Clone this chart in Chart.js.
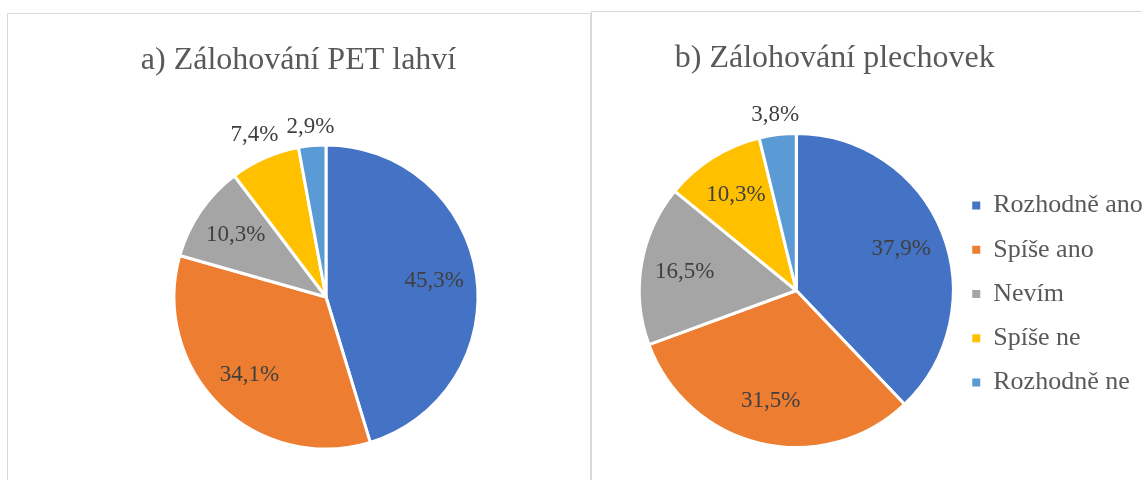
<!DOCTYPE html>
<html>
<head>
<meta charset="utf-8">
<script src="https://cdn.jsdelivr.net/npm/chart.js@4.4.1/dist/chart.umd.min.js"></script>
<style>
  html, body { margin: 0; padding: 0; background: #fff; overflow: hidden; width: 1142px; height: 480px; }
  .panel { position: absolute; border: 1px solid #d9d9d9; background: #fff; }
  #panelA { left: 7px; top: 13px; width: 582px; height: 510px; }
  #panelB { left: 591px; top: 11px; width: 600px; height: 500px; }
  canvas { display: block; }
</style>
</head>
<body>
<div class="panel" id="panelA"><canvas id="petChart" width="582" height="510"></canvas></div>
<div class="panel" id="panelB"><canvas id="canChart" width="600" height="500"></canvas></div>
<script>
// Two Excel-style pies: deposit-return opinions for PET bottles and cans.

const CATEGORIES = ['Rozhodně ano', 'Spíše ano', 'Nevím', 'Spíše ne', 'Rozhodně ne'];
const PET_VALUES = [45.3, 34.1, 10.3, 7.4, 2.9];
const CAN_VALUES = [37.9, 31.5, 16.5, 10.3, 3.8];
const PET_TITLE = 'a) Zálohování PET lahví';
const CAN_TITLE = 'b) Zálohování plechovek';

const COLORS = ['#4472C4', '#ED7D31', '#A5A5A5', '#FFC000', '#5B9BD5'];
const SERIF = "'Liberation Serif', 'Times New Roman', Times, 'DejaVu Serif', serif";

Chart.defaults.font.family = SERIF;
Chart.defaults.color = '#595959';

// percentage labels: big slices inside, small ones just outside the rim
const pieLabels = {
  id: 'pieLabels',
  afterDatasetsDraw(chart) {
    const ctx = chart.ctx;
    const meta = chart.getDatasetMeta(0);
    const values = chart.data.datasets[0].data;
    const size = 23;
    ctx.save();
    ctx.font = size + 'px ' + SERIF;
    ctx.fillStyle = '#404040';
    ctx.textAlign = 'center';
    ctx.textBaseline = 'middle';
    meta.data.forEach((arc, i) => {
      const p = arc.getProps(['x', 'y', 'startAngle', 'endAngle', 'outerRadius'], true);
      const mid = (p.startAngle + p.endAngle) / 2;
      const cx = Math.cos(mid), sy = Math.sin(mid);
      const text = values[i].toFixed(1).replace('.', ',') + '%';
      let dist;
      if (values[i] >= 8) {
        dist = p.outerRadius * 0.72;
      } else {
        const w = ctx.measureText(text).width;
        const h = size * 0.85;
        dist = p.outerRadius + 7 + Math.abs(cx) * w / 2 + Math.abs(sy) * h / 2;
      }
      ctx.fillText(text, p.x + cx * dist, p.y + sy * dist);
    });
    ctx.restore();
  }
};

// chart title, placed like the Excel title (not tied to the plot area centre)
const panelTitle = {
  id: 'panelTitle',
  afterDraw(chart, args, opts) {
    const ctx = chart.ctx;
    ctx.save();
    ctx.font = '32px ' + SERIF;
    ctx.fillStyle = '#595959';
    ctx.textAlign = 'center';
    ctx.textBaseline = 'middle';
    ctx.fillText(opts.text, opts.x, 46.2);
    ctx.restore();
  }
};

function legendItems(chart) {
  return Chart.overrides.pie.plugins.legend.labels.generateLabels(chart)
    .map(l => Object.assign(l, { lineWidth: 0, strokeStyle: 'rgba(0,0,0,0)' }));
}

function makePie(id, title, titleX, values, radius, padding, legend) {
  return new Chart(document.getElementById(id), {
    type: 'pie',
    data: {
      labels: CATEGORIES,
      datasets: [{
        data: values,
        backgroundColor: COLORS,
        borderColor: '#ffffff',
        borderWidth: 3
      }]
    },
    options: {
      responsive: false,
      animation: false,
      radius: radius,
      layout: { padding: padding },
      plugins: {
        panelTitle: { text: title, x: titleX },
        legend: legend,
        tooltip: { enabled: false }
      }
    },
    plugins: [pieLabels, panelTitle]
  });
}

makePie('petChart', PET_TITLE, 290.5, PET_VALUES, 152,
  { left: 60, right: 6, top: 75.4, bottom: 19.4 },
  { display: false });

makePie('canChart', CAN_TITLE, 242.7, CAN_VALUES, 157,
  { left: 46.6, right: 48, top: 75.4, bottom: 18.4 },
  {
    display: true,
    position: 'right',
    fullSize: false,
    maxWidth: 190,
    align: 'center',
    // empty title only nudges the item column down a little
    title: { display: true, text: '', font: { size: 1 }, padding: { top: 0, bottom: 5.8 } },
    labels: {
      boxWidth: 8,
      boxHeight: 8,
      padding: 18.25,
      color: '#595959',
      font: { size: 26 },
      generateLabels: legendItems
    }
  });
</script>
</body>
</html>
